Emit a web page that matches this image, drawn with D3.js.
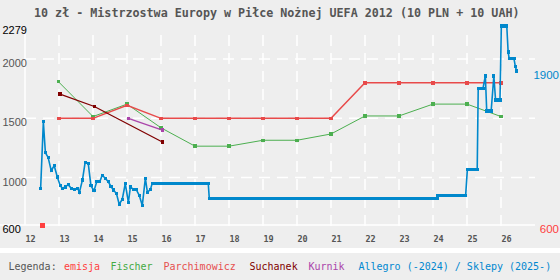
<!DOCTYPE html>
<html>
<head>
<meta charset="utf-8">
<script src="https://cdn.jsdelivr.net/npm/d3@7"></script>
<style>
  body { margin: 0; background: #eeeeee; }
  svg { display: block; }
</style>
</head>
<body>
<svg id="chart" width="560" height="280"></svg>
<script>

// ------------------------------------------------------------------
//  DATA
// ------------------------------------------------------------------

const title = "10 zł - Mistrzostwa Europy w Piłce Nożnej UEFA 2012 (10 PLN + 10 UAH)";
const yearTicks = [12, 13, 14, 15, 16, 17, 18, 19, 20, 21, 22, 23, 24, 25, 26];
const valueTicks = [2279, 2000, 1500, 1000, 600];

// [year, price]
const emisja = [[12.5, 600]];
const fischer = [
    [12.98, 1810], [14, 1515], [15, 1620], [16, 1420], [17, 1265], [18, 1265], [19, 1315],
    [20, 1315], [21, 1368], [22, 1520], [23, 1520], [24, 1620], [25, 1620], [26, 1515]
];
const parchimowicz = [
    [13, 1500], [14, 1500], [15, 1610], [16, 1500], [17, 1500], [18, 1500], [19, 1500],
    [20, 1500], [21, 1500], [22, 1800], [23, 1800], [24, 1800], [25, 1800], [26, 1800]
];
const suchanek = [[13.03, 1705], [14.04, 1600], [16.04, 1300]];
const kurnik = [[15.04, 1500], [16.04, 1400]];

// Allegro / shops: single sales
const allegro = [
    [12.46, 910], [12.54, 1470], [12.60, 1210], [12.68, 1170], [12.77, 1060], [12.86, 1100],
    [12.95, 1005], [13.04, 930], [13.10, 910], [13.18, 920], [13.27, 940], [13.36, 910],
    [13.46, 900], [13.55, 910], [13.60, 875], [13.69, 980], [13.77, 1130], [13.86, 1120],
    [13.94, 930], [14.03, 890], [14.11, 965], [14.20, 965], [14.27, 1020], [14.36, 995],
    [14.45, 965], [14.53, 925], [14.60, 895], [14.69, 865], [14.77, 775], [14.86, 815],
    [14.95, 950], [15.04, 790], [15.10, 920], [15.19, 900], [15.27, 900], [15.36, 850],
    [15.45, 765], [15.54, 995], [15.60, 875], [15.69, 900],
    [25.54, 1857], [25.79, 1857], [26.21, 2060], [26.42, 1940], [26.46, 1900]
];
// Allegro / shops: dense runs of sales at one price [from, to, price]
const allegroRuns = [
    [15.74, 17.39, 950], [17.42, 24.13, 825], [24.14, 24.96, 850], [25.01, 25.30, 1065],
    [25.33, 25.47, 1753], [25.58, 25.71, 1562], [25.84, 25.97, 1655], [26.01, 26.17, 2279],
    [26.24, 26.38, 2005]
];

const legendItems = [
    { label: "Legenda:", color: "#555555", x: 8.5 },
    { label: "emisja", color: "#ff4040", x: 64 },
    { label: "Fischer", color: "#44aa44", x: 110.5 },
    { label: "Parchimowicz", color: "#e65050", x: 163.5 },
    { label: "Suchanek", color: "#800000", x: 249.5 },
    { label: "Kurnik", color: "#aa44aa", x: 308.5 },
    { label: "Allegro (-2024) / Sklepy (2025-)", color: "#0088d0", x: 358.5 }
];

// ------------------------------------------------------------------
//  CHART
// ------------------------------------------------------------------

const svg = d3.select("#chart");
const x = d3.scaleLinear().domain([12, 27]).range([25, 535]);
const y = d3.scaleLinear().domain([600, 2279]).range([225, 26]);
const mono = "'DejaVu Sans Mono', monospace";
const sans = "'Liberation Sans', Arial, sans-serif";

svg.append("rect").attr("width", 560).attr("height", 280).attr("fill", "#eeeeee");
svg.append("rect").attr("y", 248).attr("width", 560).attr("height", 5).attr("fill", "#ffffff");

// Title
svg.append("text")
    .attr("x", 34)
    .attr("y", 16.5)
    .attr("font-family", mono)
    .attr("font-weight", "bold")
    .attr("font-size", 11.7)
    .attr("fill", "#555555")
    .text(title);

// Grid
const grid = svg.append("g").attr("stroke", "#ffffff").attr("stroke-width", 1.5);
grid.selectAll("line.h")
    .data(valueTicks.filter(v => v !== 2279 && v !== 600))
    .join("line")
        .attr("x1", x(12)).attr("x2", x(27))
        .attr("y1", d => y(d)).attr("y2", d => y(d))
        .attr("stroke-dasharray", "11,7");
grid.selectAll("line.v")
    .data(yearTicks.slice(1))
    .join("line")
        .attr("x1", d => x(d)).attr("x2", d => x(d))
        .attr("y1", 35).attr("y2", 233)
        .attr("stroke-dasharray", "11,7");
grid.append("line")
    .attr("x1", 0).attr("x2", x(27))
    .attr("y1", y(600)).attr("y2", y(600));
grid.append("line")
    .attr("x1", x(12)).attr("x2", x(12))
    .attr("y1", 33).attr("y2", y(600));

// Axis labels
svg.append("g")
    .selectAll("text")
    .data(valueTicks)
    .join("text")
        .attr("x", 2.5)
        .attr("y", d => y(d) + 8)
        .attr("font-family", sans)
        .attr("font-size", 11)
        .attr("fill", d => (d === 2279 || d === 600) ? "#000000" : "#555555")
        .text(d => d);

svg.append("g")
    .selectAll("text")
    .data(yearTicks)
    .join("text")
        .attr("x", d => x(d) + 0.5)
        .attr("y", 242)
        .attr("font-family", mono)
        .attr("font-weight", "bold")
        .attr("font-size", 8.5)
        .attr("fill", "#555555")
        .text(d => d);

// Series
const line = d3.line().x(d => x(d[0])).y(d => y(d[1]));

function drawSeries(data, color, width, size) {
    const g = svg.append("g");
    g.append("path")
        .datum(data)
        .attr("d", line)
        .attr("fill", "none")
        .attr("stroke", color)
        .attr("stroke-width", width);
    g.selectAll("rect")
        .data(data)
        .join("rect")
            .attr("x", d => x(d[0]) - size / 2)
            .attr("y", d => y(d[1]) - size / 2)
            .attr("width", size)
            .attr("height", size)
            .attr("fill", color)
            .attr("shape-rendering", "crispEdges");
    return g;
}

drawSeries(fischer, "#4caf50", 1, 3.5);
drawSeries(parchimowicz, "#e84a4a", 1.5, 3.5);
drawSeries(suchanek, "#800000", 1.3, 3.5);
drawSeries(kurnik, "#aa44aa", 1.3, 3.5);

// Allegro line passes through single sales and the ends of the dense runs
const allegroLine = allegro
    .concat(allegroRuns.flatMap(r => [[r[0], r[2]], [r[1], r[2]]]))
    .sort((a, b) => a[0] - b[0]);
const ag = drawSeries(allegroLine, "#0088cc", 1.6, 3.2);
ag.selectAll("line.run")
    .data(allegroRuns)
    .join("line")
        .attr("x1", d => x(d[0])).attr("x2", d => x(d[1]))
        .attr("y1", d => y(d[2])).attr("y2", d => y(d[2]))
        .attr("stroke", "#0088cc")
        .attr("stroke-width", 3.2)
        .attr("shape-rendering", "crispEdges");

drawSeries(emisja, "#ff4040", 1, 5);

// Last values on the right
const lastLabels = [
    { value: allegroLine[allegroLine.length - 1][1], color: "#0088cc" },
    { value: emisja[emisja.length - 1][1], color: "#ff4040" }
];
svg.append("g")
    .selectAll("text")
    .data(lastLabels)
    .join("text")
        .attr("x", 559)
        .attr("y", d => y(d.value) + 8)
        .attr("text-anchor", "end")
        .attr("font-family", sans)
        .attr("font-size", 11.5)
        .attr("fill", d => d.color)
        .text(d => d.value);

// Legend
svg.append("g")
    .selectAll("text")
    .data(legendItems)
    .join("text")
        .attr("x", d => d.x)
        .attr("y", 270)
        .attr("font-family", mono)
        .attr("font-size", 10)
        .attr("fill", d => d.color)
        .text(d => d.label);

</script>
</body>
</html>
